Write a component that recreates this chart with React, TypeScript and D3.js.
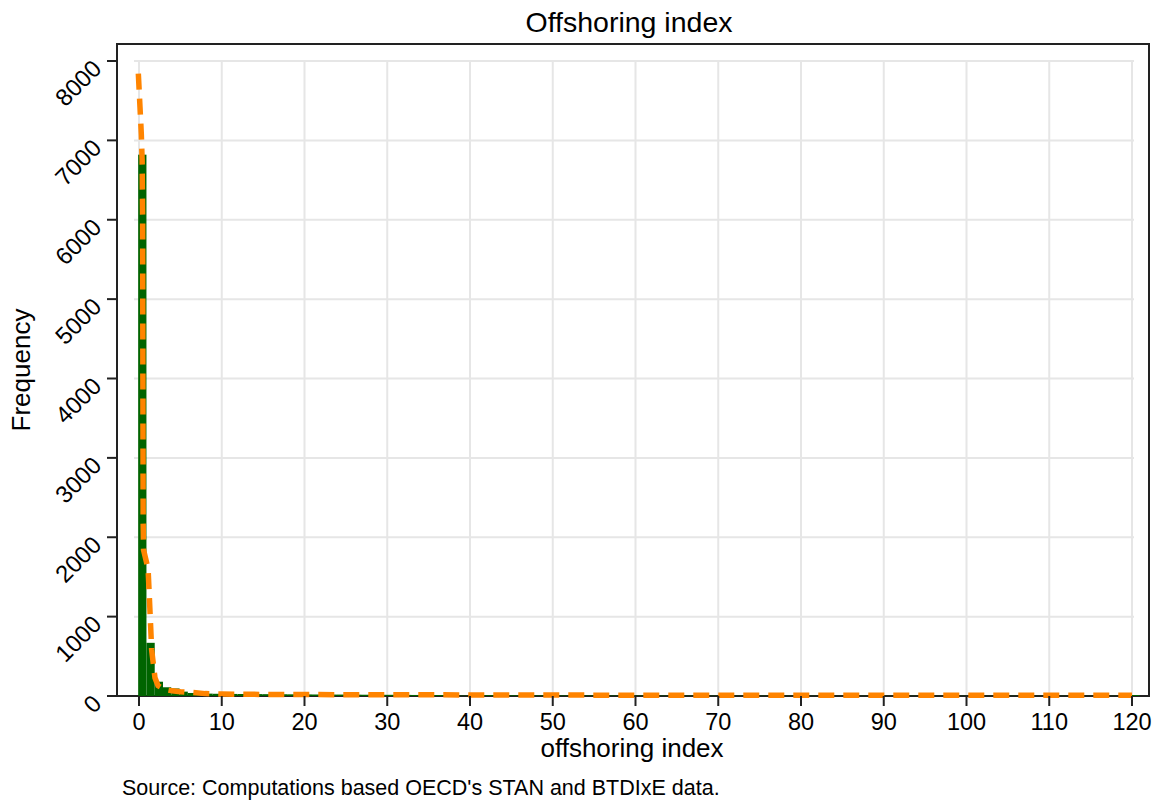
import React from 'react';
import * as d3 from 'd3';

// histogram: bins of width 1 starting just below 0
const binStart = -0.1;
const binWidth = 1;
const binCounts = [
  6820, 670, 180, 110, 95, 55, 38, 32, 30, 28,
  27, 26, 25, 24, 24, 23, 22, 22, 21, 20,
  20, 19, 19, 18, 18, 17, 17, 16, 16, 15,
  15, 14, 14, 13, 13, 12, 12, 11, 5, 4,
  12, 10, 10, 9, 9, 8, 8, 8, 7, 7,
  7, 6, 6, 6, 6, 5, 5, 5, 5, 5,
  5, 4, 4, 4, 4, 4, 4, 4, 3, 3,
  3, 3, 3, 3, 3, 3, 3, 3, 3, 3,
  3, 2, 2, 2, 2, 2, 2, 2, 2, 2,
  2, 2, 2, 2, 2, 2, 2, 2, 2, 2,
  2, 20, 2, 2, 20, 2, 2, 2, 2, 2,
  2, 2, 2, 2, 2, 2, 2, 2, 2, 2, 12,
];

// fitted curve
const curveX = [-0.08, 0.12, 0.28, 0.38, 0.44, 0.47, 0.5, 0.55, 1.1, 1.25, 1.41, 1.53, 1.93, 2.3, 3.0, 4.0, 5.0, 6.5, 8, 10, 15, 20, 30, 40, 50, 60, 70, 80, 90, 100, 110, 120];
const curveY = [7840, 7420, 7080, 6750, 6000, 4000, 2200, 1840, 1600, 1250, 870, 580, 230, 130, 85, 65, 55, 45, 30, 25, 20, 18, 15, 14, 12, 10, 10, 10, 10, 10, 10, 10];

const xTicks = d3.range(0, 121, 10);
const yTicks = d3.range(0, 8001, 1000);

const title = 'Offshoring index';
const xTitle = 'offshoring index';
const yTitle = 'Frequency';
const note = "Source: Computations based OECD's STAN and BTDIxE data.";

const W = 1164, H = 802;
const frame = { left: 117, top: 44, right: 1149, bottom: 696 };
const font = '"Liberation Sans", Arial, sans-serif';

const App: React.FC = () => {
  const x = d3.scaleLinear().domain([0, 120]).range([139, 1132]);
  const y = d3.scaleLinear().domain([0, 8000]).range([696, 61]);

  const line = d3.line<number>()
    .x((_, i) => x(curveX[i]))
    .y(d => y(d));

  return (
    <svg width={W} height={H} style={{ position: 'absolute', left: 0, top: 0, background: '#fff' }} fontFamily={font}>
      <rect x={0} y={0} width={W} height={H} fill="#fff" />
      <text x={629} y={32} fontSize={28.5} textAnchor="middle" fill="#000">{title}</text>

      {/* grid */}
      {yTicks.map(t => (
        <line key={'gy' + t} x1={134} x2={1134} y1={y(t)} y2={y(t)} stroke="#e6e6e6" strokeWidth={2} />
      ))}
      {xTicks.map(t => (
        <line key={'gx' + t} x1={x(t)} x2={x(t)} y1={61} y2={696} stroke="#e6e6e6" strokeWidth={2} />
      ))}

      {/* frame */}
      <rect x={frame.left} y={frame.top} width={frame.right - frame.left} height={frame.bottom - frame.top}
        fill="none" stroke="#222" strokeWidth={2} />

      {/* bars */}
      {binCounts.map((c, i) => {
        const x0 = x(binStart + i * binWidth);
        const x1 = x(binStart + (i + 1) * binWidth);
        return <rect key={'b' + i} x={x0} y={y(c)} width={x1 - x0} height={y(0) - y(c)} fill="#006400" />;
      })}

      <path d={line(curveY) || ''} fill="none" stroke="#ff8400" strokeWidth={5.5} strokeDasharray="16 9" />

      {/* y axis */}
      {yTicks.map(t => (
        <g key={'ty' + t}>
          <line x1={107} x2={frame.left} y1={y(t)} y2={y(t)} stroke="#222" strokeWidth={2} />
          <text transform={`translate(103,${y(t) + 9}) rotate(-45)`} fontSize={24} textAnchor="end" fill="#000">{t}</text>
        </g>
      ))}
      <text transform="translate(30,370) rotate(-90)" fontSize={26} textAnchor="middle" fill="#000">{yTitle}</text>

      {/* x axis */}
      {xTicks.map(t => (
        <g key={'tx' + t}>
          <line x1={x(t)} x2={x(t)} y1={frame.bottom} y2={frame.bottom + 10} stroke="#222" strokeWidth={2} />
          <text x={x(t)} y={730} fontSize={23.5} textAnchor="middle" fill="#000">{t}</text>
        </g>
      ))}
      <text x={632} y={757} fontSize={26} textAnchor="middle" fill="#000">{xTitle}</text>

      <text x={122} y={795} fontSize={21.5} fill="#000">{note}</text>
    </svg>
  );
};

export default App;
